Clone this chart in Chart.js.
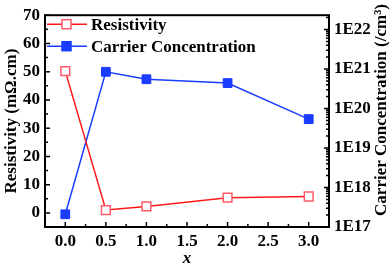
<!DOCTYPE html>
<html>
<head>
<meta charset="utf-8">
<script src="https://cdn.jsdelivr.net/npm/chart.js@4"></script>
<style>
  html, body { margin: 0; padding: 0; background: #fff; }
  #wrap { width: 392px; height: 266px; }
</style>
</head>
<body>
<div id="wrap"><canvas id="chart" width="392" height="266"></canvas></div>
<script>
// data
const xValues = [0, 0.5, 1.0, 2.0, 3.0];
const resistivity = [50.2, 1.0, 2.3, 5.4, 5.8];
const carrier = [2.1e17, 8.5e20, 5.5e20, 4.4e20, 5.4e19];
const xTicks = [0, 0.5, 1.0, 1.5, 2.0, 2.5, 3.0];
const leftTicks = [0, 10, 20, 30, 40, 50, 60, 70];
const rightExponents = [17, 18, 19, 20, 21, 22];

const FONT = '"Liberation Serif", "Times New Roman", serif';
const RED = "#ff1a1a";
const RED_MARK = "#ff5a6a";
const BLUE = "#1a3cff";

const legendItems = [
  { label: "Resistivity", line: RED, stroke: RED_MARK, fill: "#fff" },
  { label: "Carrier Concentration", line: BLUE, stroke: BLUE, fill: BLUE },
];

// frame, inward ticks, titles and legend drawn on top of the chart
const decorPlugin = {
  id: "decor",
  afterDraw(chart) {
    const ctx = chart.ctx;
    const ca = chart.chartArea;
    const xs = chart.scales.x, yl = chart.scales.y, yr = chart.scales.y2;
    ctx.save();
    ctx.strokeStyle = "#000";
    ctx.lineWidth = 1.5;
    ctx.beginPath();
    for (let v = 0; v <= 3.001; v += 0.25) {
      const px = xs.getPixelForValue(v);
      const len = Math.abs(v * 2 - Math.round(v * 2)) < 1e-6 ? 5 : 3;
      ctx.moveTo(px, ca.bottom); ctx.lineTo(px, ca.bottom - len);
    }
    for (let v = -5; v <= 70; v += 5) {
      const py = yl.getPixelForValue(v);
      const len = v % 10 === 0 ? 5 : 3;
      ctx.moveTo(ca.left, py); ctx.lineTo(ca.left + len, py);
    }
    for (const e of rightExponents) {
      for (let m = 1; m <= 9; m++) {
        const v = m * Math.pow(10, e);
        if (v > yr.max) break;
        const py = yr.getPixelForValue(v);
        const len = m === 1 ? 5 : 3;
        ctx.moveTo(ca.right, py); ctx.lineTo(ca.right - len, py);
      }
    }
    ctx.stroke();

    ctx.lineWidth = 2;
    ctx.strokeRect(ca.left, ca.top, ca.right - ca.left, ca.bottom - ca.top);

    // axis titles
    ctx.fillStyle = "#000";
    ctx.font = "bold 17px " + FONT;
    ctx.textAlign = "center";
    ctx.textBaseline = "middle";
    ctx.save();
    ctx.translate(12, (ca.top + ca.bottom) / 2);
    ctx.rotate(-Math.PI / 2);
    ctx.fillText("Resistivity (m\u03A9.cm)", 0, 0);
    ctx.restore();
    ctx.save();
    ctx.translate(382, 110);
    ctx.rotate(-Math.PI / 2);
    ctx.fillText("Carrier Concentration (/cm\u00B3)", 0, 0);
    ctx.restore();
    ctx.font = "italic bold 17px " + FONT;
    ctx.fillText("x", (ca.left + ca.right) / 2, 259);

    // legend inside the plot
    ctx.font = "bold 17px " + FONT;
    ctx.textAlign = "left";
    legendItems.forEach((it, i) => {
      const y = ca.top + 9 + i * 22;
      ctx.strokeStyle = it.line;
      ctx.lineWidth = 1.5;
      ctx.beginPath();
      ctx.moveTo(ca.left + 2, y); ctx.lineTo(ca.left + 42, y);
      ctx.stroke();
      ctx.fillStyle = it.fill;
      ctx.fillRect(ca.left + 17, y - 4.5, 9, 9);
      ctx.strokeStyle = it.stroke;
      ctx.strokeRect(ca.left + 17, y - 4.5, 9, 9);
      ctx.fillStyle = "#000";
      ctx.fillText(it.label, ca.left + 46, y + 1);
    });
    ctx.restore();
  },
};

const tickFont = { family: FONT, size: 17, weight: "bold" };

new Chart(document.getElementById("chart"), {
  type: "line",
  data: {
    datasets: [
      {
        label: "Resistivity",
        data: xValues.map((x, i) => ({ x, y: resistivity[i] })),
        yAxisID: "y",
        borderColor: RED,
        borderWidth: 1.5,
        pointStyle: "rect",
        pointRadius: 6.2,
        pointBorderWidth: 1.5,
        pointBackgroundColor: "#fff",
        pointBorderColor: RED_MARK,
        tension: 0,
      },
      {
        label: "Carrier Concentration",
        data: xValues.map((x, i) => ({ x, y: carrier[i] })),
        yAxisID: "y2",
        borderColor: BLUE,
        borderWidth: 1.5,
        pointStyle: "rect",
        pointRadius: 6.2,
        pointBorderWidth: 1,
        pointBackgroundColor: BLUE,
        pointBorderColor: BLUE,
        tension: 0,
      },
    ],
  },
  options: {
    responsive: false,
    animation: false,
    layout: { padding: { top: 7, left: 0, right: 0, bottom: 0 } },
    plugins: { legend: { display: false }, tooltip: { enabled: false } },
    scales: {
      x: {
        type: "linear",
        min: -0.25,
        max: 3.25,
        afterBuildTicks: (s) => { s.ticks = xTicks.map((v) => ({ value: v })); },
        afterFit: (s) => { s.height = 39; },
        ticks: { color: "#000", font: tickFont, padding: 4, maxRotation: 0,
          callback: (v) => Number(v).toFixed(1) },
        grid: { display: false, drawTicks: false },
        border: { display: false },
      },
      y: {
        type: "linear",
        position: "left",
        min: -5,
        max: 70,
        afterBuildTicks: (s) => { s.ticks = leftTicks.map((v) => ({ value: v })); },
        afterFit: (s) => { s.width = 45; },
        ticks: { color: "#000", font: tickFont, padding: 5 },
        grid: { display: false, drawTicks: false },
        border: { display: false },
      },
      y2: {
        type: "logarithmic",
        position: "right",
        min: 1e17,
        max: 2.3e22,
        afterBuildTicks: (s) => { s.ticks = rightExponents.map((e) => ({ value: Math.pow(10, e) })); },
        afterFit: (s) => { s.width = 63; },
        ticks: { color: "#000", font: tickFont, padding: 5,
          callback: (v) => "1E" + Math.round(Math.log10(v)) },
        grid: { display: false, drawTicks: false },
        border: { display: false },
      },
    },
  },
  plugins: [decorPlugin],
});
</script>
</body>
</html>
